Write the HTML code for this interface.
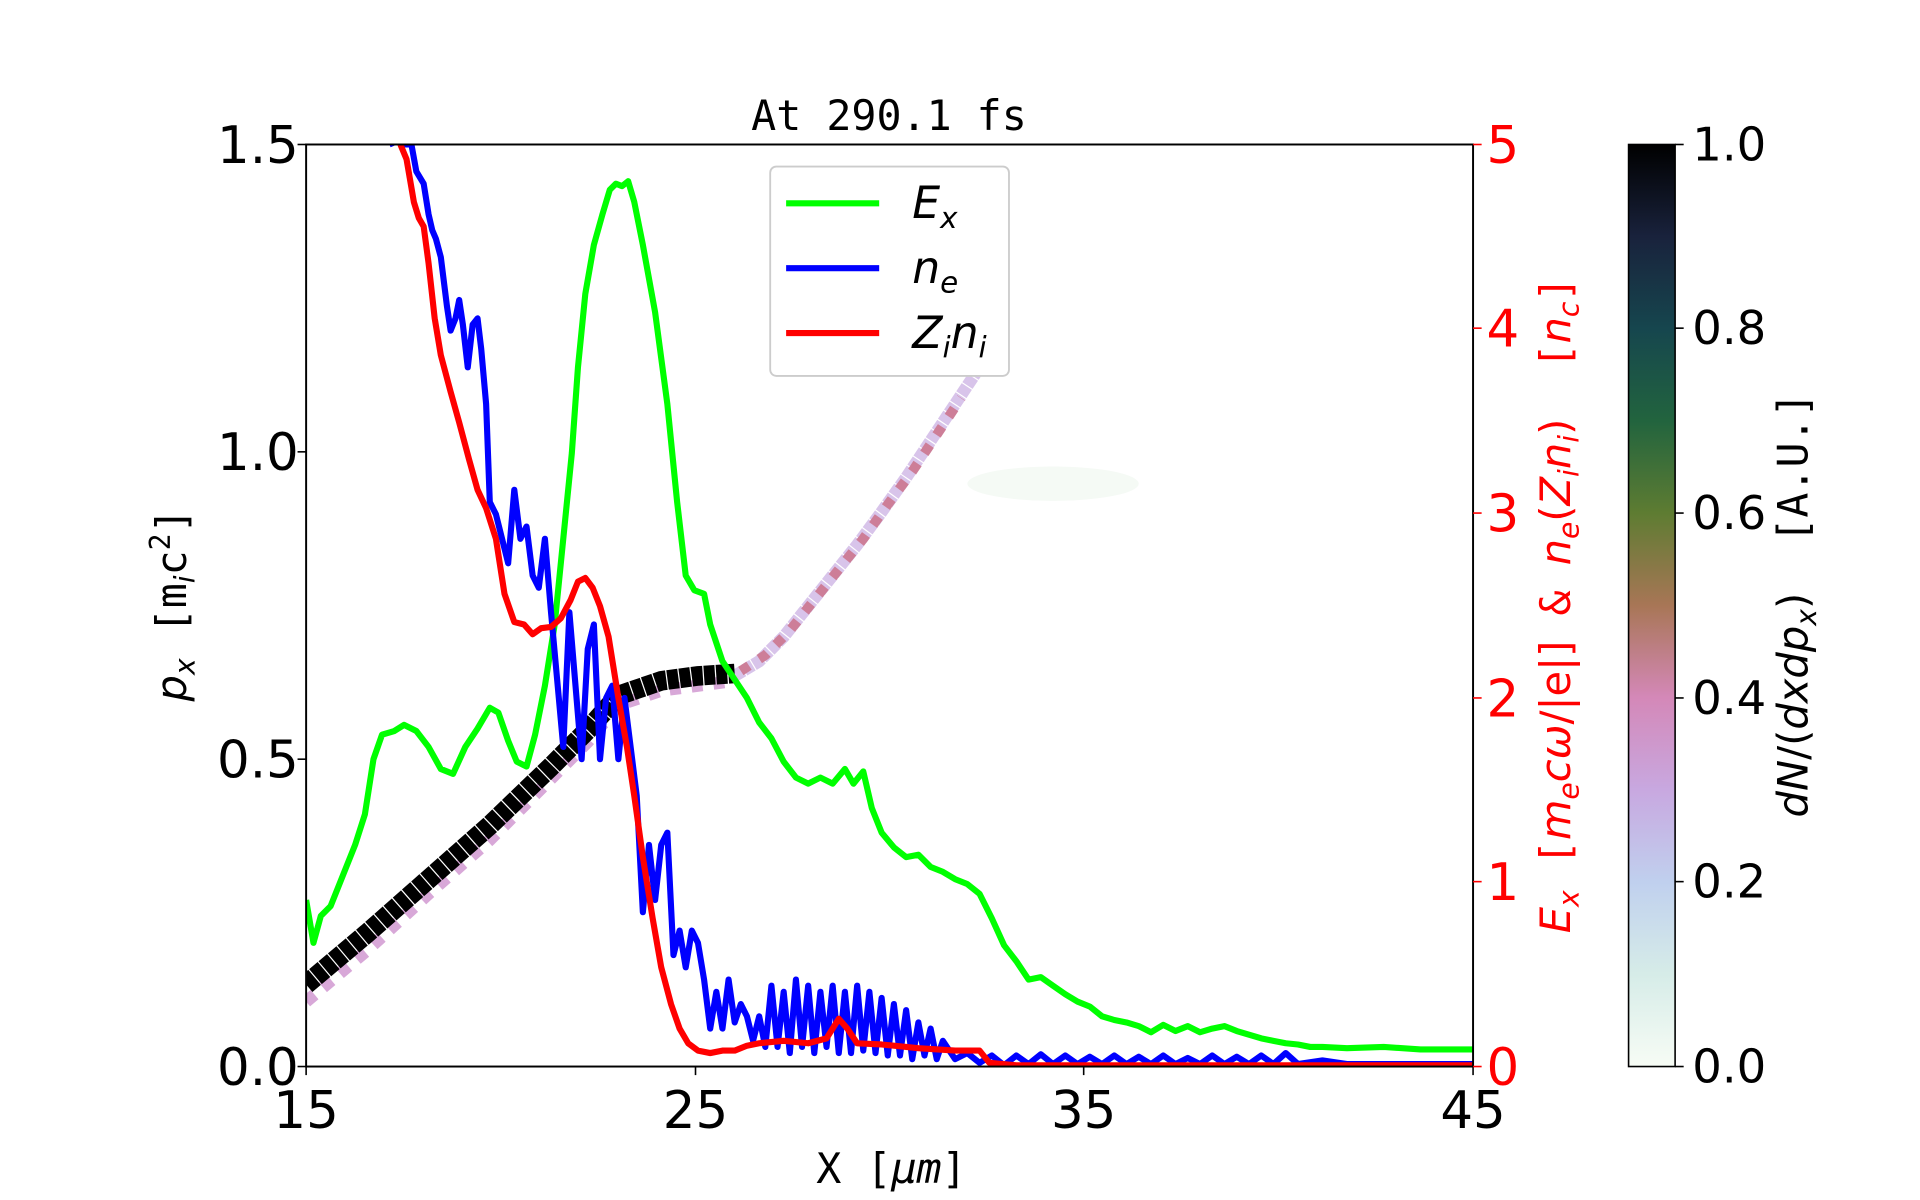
<!DOCTYPE html>
<html><head><meta charset="utf-8"><style>
html,body{margin:0;padding:0;background:#fff;}
svg{display:block;}
text{font-family:"DejaVu Sans","Liberation Sans",sans-serif;}
.mono{font-family:"DejaVu Sans Mono","Liberation Mono",monospace;}
</style></head><body>
<svg width="1920" height="1200" viewBox="0 0 1568 980" xmlns="http://www.w3.org/2000/svg">
<defs>
<linearGradient id="cb" x1="0" y1="1" x2="0" y2="0">
<stop offset="0" stop-color="#f7fcf5"/>
<stop offset="0.1" stop-color="#d6ece8"/>
<stop offset="0.2" stop-color="#c0d0ee"/>
<stop offset="0.3" stop-color="#c8a8e0"/>
<stop offset="0.4" stop-color="#d488b8"/>
<stop offset="0.5" stop-color="#a87656"/>
<stop offset="0.6" stop-color="#5e7c32"/>
<stop offset="0.7" stop-color="#22643e"/>
<stop offset="0.8" stop-color="#16464e"/>
<stop offset="0.9" stop-color="#19223c"/>
<stop offset="1" stop-color="#000"/>
</linearGradient>
<clipPath id="ax"><rect x="250" y="118" width="953" height="753"/></clipPath>
</defs>
<text x="726" y="106" font-size="34" text-anchor="middle" class="mono">At 290.1 fs</text>
<g clip-path="url(#ax)">
<ellipse cx="860" cy="395" rx="70" ry="14" fill="#f5faf5"/>
<polyline points="600,552 620,540 640,520 660,495 680,470 700,445 720,418 740,390 760,360 780,330 800,300" fill="none" stroke="#d8c4ea" stroke-width="10" stroke-dasharray="8,1"/>
<polyline points="605,548 625,535 645,515 665,490 685,465 705,440 725,412 745,385 765,355 785,325" fill="none" stroke="#cd7e98" stroke-width="8" stroke-dasharray="8,10"/>
<polyline points="250,818 300,776 350,730 400,686 450,636 480,606 505,576 540,564 570,560 600,556" fill="none" stroke="#d8a8d8" stroke-width="10" stroke-dasharray="9,9"/>
<polyline points="250,804 300,762 350,718 400,674 450,626 480,596 505,568 540,556 570,552 600,550" fill="none" stroke="#000" stroke-width="16" stroke-dasharray="9,1"/>
<polyline fill="none" stroke="#00ff00" stroke-width="5" stroke-linejoin="round" points="250,735 256,770 262,748 270,740 280,715 290,690 298,665 305,620 312,600 322,597 330,592 340,597 350,610 360,628 370,632 380,610 390,595 400,578 407,582 415,605 422,622 430,626 437,600 445,560 453,510 460,440 467,370 472,300 478,240 485,200 492,175 498,155 503,150 508,152 513,148 518,165 525,200 535,255 545,330 553,410 560,470 567,482 575,485 580,510 590,540 600,555 610,570 620,590 630,603 640,622 650,635 660,640 670,635 680,640 690,628 697,640 705,630 712,660 720,680 730,692 740,700 750,698 760,708 770,712 780,718 790,722 800,730 810,750 820,772 830,785 840,800 850,798 860,805 870,812 880,818 890,822 900,830 910,833 920,835 930,838 940,843 950,837 960,842 970,838 980,843 990,840 1000,838 1010,842 1020,845 1030,848 1040,850 1050,852 1060,853 1070,855 1080,855 1100,856 1130,855 1160,857 1203,857"/>
<polyline fill="none" stroke="#0000ff" stroke-width="5" stroke-linejoin="round" points="318,118 325,115 330,118 336,118 340,140 346,150 350,175 353,188 356,195 360,210 365,250 368,270 372,260 375,245 378,265 382,300 386,265 390,260 393,285 397,330 400,410 405,420 410,440 415,460 420,400 425,440 430,430 435,470 440,480 445,440 450,500 455,555 460,610 465,500 470,560 475,620 480,530 485,510 490,620 495,570 500,560 505,620 510,570 515,610 520,650 525,745 530,690 535,735 540,690 545,680 550,780 555,760 560,790 565,760 570,770 575,800 580,840 585,810 590,840 595,800 600,835 605,820 610,830 615,850 620,830 625,855 630,805 635,855 640,810 645,860 650,800 655,855 660,805 665,860 670,810 675,855 680,805 685,860 690,810 695,860 700,805 705,858 710,810 715,860 720,815 725,862 730,820 735,862 740,825 745,865 750,835 755,862 760,840 765,865 770,850 780,865 790,860 800,868 810,862 820,870 830,862 840,869 850,861 860,869 870,862 880,869 890,863 900,869 910,862 920,869 930,863 940,869 950,862 960,869 970,864 980,869 990,862 1000,869 1010,863 1020,869 1030,862 1040,869 1050,860 1060,869 1080,866 1100,869 1203,869"/>
<polyline fill="none" stroke="#ff0000" stroke-width="5" stroke-linejoin="round" points="327,118 332,130 338,165 342,178 346,185 350,215 355,260 360,290 368,320 375,345 383,375 390,400 397,415 405,440 412,485 420,508 428,510 435,518 442,513 450,512 458,505 466,490 472,475 478,472 484,480 490,495 497,520 505,570 512,610 518,650 525,700 533,750 540,790 548,820 555,840 562,852 570,858 580,860 590,858 600,858 610,854 620,852 640,850 660,852 675,848 685,832 692,840 700,852 720,853 750,856 780,858 800,858 808,868 830,870 1203,870"/>
</g>
<rect x="250" y="118" width="953" height="753" fill="none" stroke="#000" stroke-width="1.6"/>
<g stroke="#000" stroke-width="1.3">
<line x1="243" y1="871" x2="250" y2="871"/><line x1="243" y1="620" x2="250" y2="620"/><line x1="243" y1="369" x2="250" y2="369"/><line x1="243" y1="118" x2="250" y2="118"/>
<line x1="250" y1="871" x2="250" y2="878"/><line x1="568" y1="871" x2="568" y2="878"/><line x1="885" y1="871" x2="885" y2="878"/><line x1="1203" y1="871" x2="1203" y2="878"/>
</g>
<g font-size="42" text-anchor="end">
<text x="244" y="886">0.0</text><text x="244" y="635">0.5</text><text x="244" y="384">1.0</text><text x="244" y="133">1.5</text>
</g>
<g font-size="42" text-anchor="middle">
<text x="250" y="921">15</text><text x="568" y="921">25</text><text x="885" y="921">35</text><text x="1203" y="921">45</text>
</g>
<text x="728" y="966" font-size="34" text-anchor="middle" class="mono">X [<tspan font-style="italic">μm</tspan>]</text>
<text transform="translate(152,494) rotate(-90)" font-size="34" text-anchor="middle"><tspan font-style="italic">p</tspan><tspan font-style="italic" font-size="23" dy="7">x</tspan><tspan dy="-7" class="mono"> [m</tspan><tspan font-size="23" dy="7" font-style="italic">i</tspan><tspan dy="-7" class="mono">c</tspan><tspan font-size="23" dy="-13" class="mono">2</tspan><tspan dy="13" class="mono">]</tspan></text>
<g stroke="#f00" stroke-width="1.3">
<line x1="1203" y1="871" x2="1210" y2="871"/><line x1="1203" y1="720" x2="1210" y2="720"/><line x1="1203" y1="570" x2="1210" y2="570"/><line x1="1203" y1="419" x2="1210" y2="419"/><line x1="1203" y1="268" x2="1210" y2="268"/><line x1="1203" y1="118" x2="1210" y2="118"/>
</g>
<g font-size="42" fill="#f00">
<text x="1214" y="886">0</text><text x="1214" y="735">1</text><text x="1214" y="585">2</text><text x="1214" y="434">3</text><text x="1214" y="283">4</text><text x="1214" y="133">5</text>
</g>
<text transform="translate(1282,494) rotate(-90)" font-size="34" fill="#f00" text-anchor="middle" xml:space="preserve"><tspan font-style="italic">E</tspan><tspan font-size="23" font-style="italic" dy="7">x</tspan><tspan dy="-7" class="mono"> [</tspan><tspan font-style="italic">m</tspan><tspan font-size="23" font-style="italic" dy="7">e</tspan><tspan dy="-7" font-style="italic">cω</tspan><tspan>/|e|]</tspan><tspan class="mono"> &amp; </tspan><tspan font-style="italic">n</tspan><tspan font-size="23" font-style="italic" dy="7">e</tspan><tspan dy="-7">(</tspan><tspan font-style="italic">Z</tspan><tspan font-size="23" font-style="italic" dy="7">i</tspan><tspan dy="-7" font-style="italic">n</tspan><tspan font-size="23" font-style="italic" dy="7">i</tspan><tspan dy="-7">)</tspan><tspan class="mono">  [</tspan><tspan font-style="italic">n</tspan><tspan font-size="23" font-style="italic" dy="7">c</tspan><tspan dy="-7" class="mono">]</tspan></text>
<rect x="629" y="136" width="195" height="171" rx="5" fill="#fff" stroke="#ccc" stroke-width="1.5"/>
<line x1="642" y1="166" x2="718" y2="166" stroke="#00ff00" stroke-width="5"/>
<line x1="642" y1="219" x2="718" y2="219" stroke="#0000ff" stroke-width="5"/>
<line x1="642" y1="272" x2="718" y2="272" stroke="#ff0000" stroke-width="5"/>
<g font-size="36" font-style="italic">
<text x="745" y="178">E<tspan font-size="24" dy="8">x</tspan></text>
<text x="745" y="231">n<tspan font-size="24" dy="8">e</tspan></text>
<text x="745" y="284">Z<tspan font-size="24" dy="8">i</tspan><tspan dy="-8">n</tspan><tspan font-size="24" dy="8">i</tspan></text>
</g>
<rect x="1330" y="118" width="38" height="753" fill="url(#cb)" stroke="#000" stroke-width="1.3"/>
<g stroke="#000" stroke-width="1.3">
<line x1="1368" y1="871" x2="1375" y2="871"/><line x1="1368" y1="720" x2="1375" y2="720"/><line x1="1368" y1="570" x2="1375" y2="570"/><line x1="1368" y1="419" x2="1375" y2="419"/><line x1="1368" y1="268" x2="1375" y2="268"/><line x1="1368" y1="118" x2="1375" y2="118"/>
</g>
<g font-size="38">
<text x="1382" y="884">0.0</text><text x="1382" y="733">0.2</text><text x="1382" y="583">0.4</text><text x="1382" y="432">0.6</text><text x="1382" y="281">0.8</text><text x="1382" y="131">1.0</text>
</g>
<text transform="translate(1476,494) rotate(-90)" font-size="34" text-anchor="middle" xml:space="preserve"><tspan font-style="italic">dN</tspan>/(<tspan font-style="italic">dxdp</tspan><tspan font-size="23" font-style="italic" dy="7">x</tspan><tspan dy="-7">)</tspan><tspan class="mono">  [A.U.]</tspan></text>
</svg>
</body></html>
